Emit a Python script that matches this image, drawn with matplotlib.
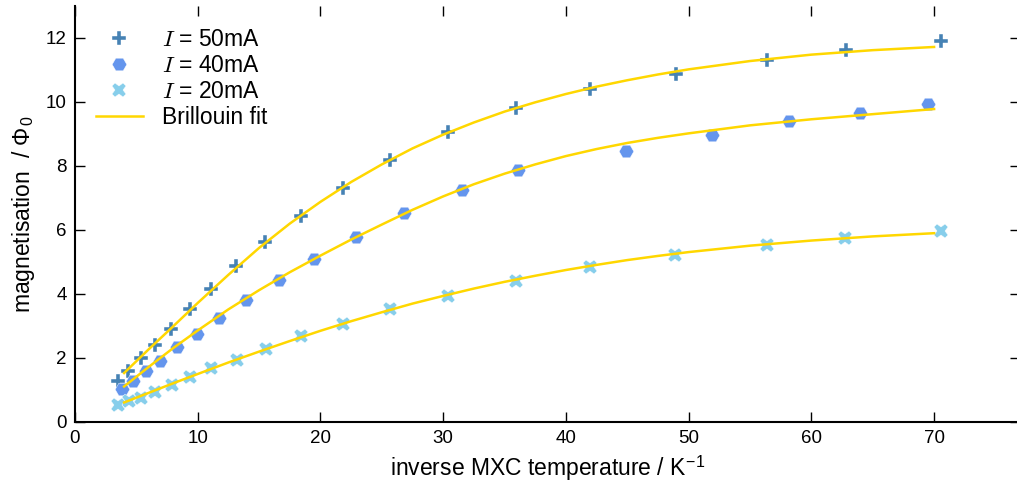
import matplotlib
matplotlib.use('Agg')
import matplotlib.pyplot as plt
import numpy as np

plt.rcParams['font.family'] = ['Liberation Sans', 'DejaVu Sans']
plt.rcParams['mathtext.fontset'] = 'cm'

# Measured points (inverse MXC temperature in 1/K, magnetisation in flux quanta)
x_50 = [3.5, 4.3, 5.4, 6.5, 7.8, 9.4, 11.1, 13.1, 15.5, 18.4, 21.8, 25.7,
        30.4, 35.9, 42.0, 49.0, 56.4, 62.8, 70.6]
m_50 = [1.29, 1.60, 2.00, 2.40, 2.92, 3.52, 4.15, 4.87, 5.62, 6.45, 7.31, 8.18,
        9.06, 9.80, 10.40, 10.88, 11.30, 11.61, 11.92]

x_40 = [3.8, 4.7, 5.8, 6.9, 8.35, 9.97, 11.76, 13.9, 16.6, 19.46, 22.9, 26.8,
        31.5, 36.1, 44.9, 51.9, 58.2, 64.0, 69.5]
m_40 = [1.03, 1.28, 1.58, 1.92, 2.33, 2.76, 3.24, 3.80, 4.45, 5.10, 5.77, 6.52,
        7.26, 7.89, 8.47, 8.96, 9.41, 9.67, 9.93]

x_20 = [3.5, 4.4, 5.4, 6.5, 7.9, 9.4, 11.1, 13.2, 15.6, 18.4, 21.8, 25.7,
        30.4, 35.9, 42.0, 48.9, 56.4, 62.7, 70.6]
m_20 = [0.53, 0.66, 0.76, 0.93, 1.17, 1.42, 1.69, 1.95, 2.29, 2.68, 3.07, 3.52,
        3.94, 4.41, 4.83, 5.23, 5.54, 5.74, 5.96]

# Brillouin fit curves
fit_x = [4.0, 6.0, 8.0, 10.0, 12.5, 15.0, 17.5, 20.0, 22.5, 25.0, 27.5, 30.0,
         32.5, 35.0, 37.5, 40.0, 42.5, 45.0, 47.5, 50.0, 55.0, 60.0, 65.0, 70.0]
fit_50 = [1.53, 2.27, 2.99, 3.72, 4.60, 5.44, 6.20, 6.88, 7.50, 8.05, 8.55, 8.98,
          9.36, 9.70, 9.99, 10.25, 10.48, 10.68, 10.86, 11.02, 11.28, 11.48,
          11.62, 11.72]
fit_40 = [1.11, 1.72, 2.31, 2.86, 3.52, 4.12, 4.68, 5.20, 5.70, 6.17, 6.63, 7.05,
          7.43, 7.76, 8.05, 8.31, 8.53, 8.72, 8.88, 9.02, 9.27, 9.46, 9.62, 9.78]
fit_20 = [0.61, 0.91, 1.21, 1.50, 1.86, 2.20, 2.53, 2.85, 3.15, 3.43, 3.70, 3.94,
          4.17, 4.38, 4.57, 4.75, 4.91, 5.06, 5.19, 5.31, 5.51, 5.67, 5.80, 5.90]

fig = plt.figure(figsize=(10.17, 4.96), dpi=100)
ax = fig.add_axes([75 / 1017, 1 - 422 / 496, 945 / 1017, 416 / 496])

gold = '#FFD700'
ax.plot(x_50, m_50, 'P', color='#4682B4', ms=10.5, mec='white', mew=0.3,
        label='$I$ = 50mA', zorder=2)
ax.plot(x_40, m_40, 'H', color='#6495ED', ms=10.5, mec='white', mew=0.3,
        label='$I$ = 40mA', zorder=2)
ax.plot(x_20, m_20, 'X', color='#87CEEB', ms=10.5, mec='white', mew=0.3,
        label='$I$ = 20mA', zorder=2)
ax.plot(fit_x, fit_50, color=gold, lw=1.8, label='Brillouin fit', zorder=3)
ax.plot(fit_x, fit_40, color=gold, lw=1.8, zorder=3)
ax.plot(fit_x, fit_20, color=gold, lw=1.8, zorder=3)

ax.set_xlim(0, 77)
ax.set_ylim(0, 13)
ax.set_xticks(np.arange(0, 71, 10))
ax.set_yticks(np.arange(0, 13, 2))
ax.spines['top'].set_visible(False)
ax.spines['right'].set_visible(False)
ax.spines['left'].set_linewidth(1.5)
ax.spines['bottom'].set_linewidth(1.5)
ax.tick_params(direction='in', length=7, width=1, top=True, right=True,
               labelsize=13.5, pad=6)

ax.set_xlabel('inverse MXC temperature / K$^{\\mathregular{-1}}$', fontsize=16.5,
              labelpad=4)
ax.set_ylabel('magnetisation  / \u03a6$_{\\mathregular{0}}$', fontsize=16.5,
              labelpad=6)

ax.legend(loc='upper left', bbox_to_anchor=(0.022, 0.948), frameon=False,
          borderaxespad=0, borderpad=0, handlelength=2.05, handletextpad=0.85,
          labelspacing=0.14, fontsize=16.5, numpoints=1)

fig.savefig('out.png', dpi=100)
